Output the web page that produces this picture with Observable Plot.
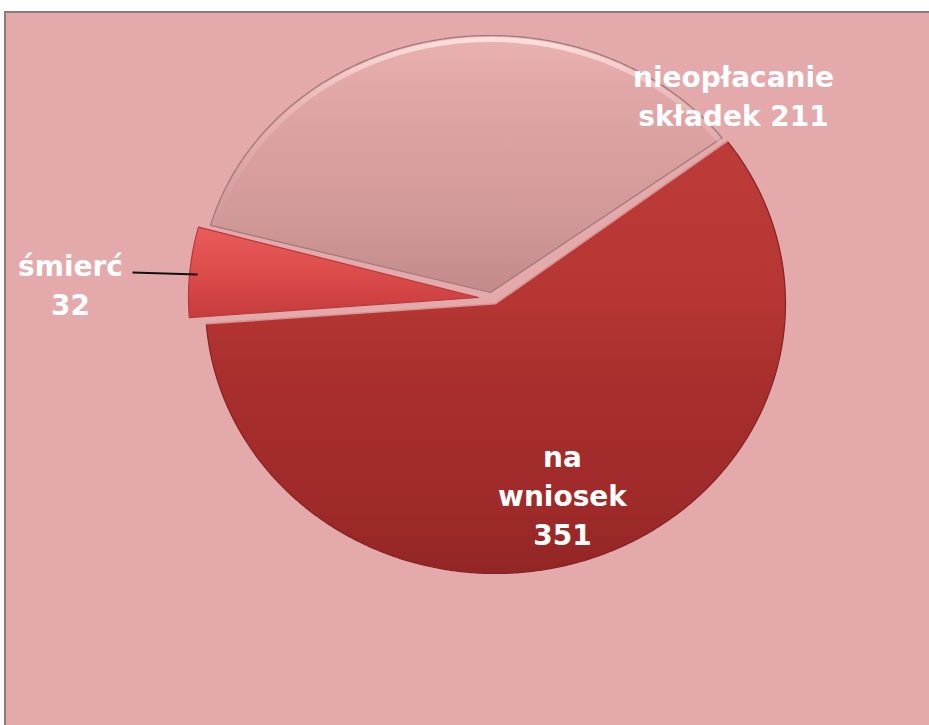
<!DOCTYPE html>
<html>
<head>
<meta charset="utf-8">
<script src="https://cdn.jsdelivr.net/npm/d3@7"></script>
<script src="https://cdn.jsdelivr.net/npm/@observablehq/plot@0.6"></script>
<style>
  html, body { margin: 0; padding: 0; background: #ffffff; }
  #frame {
    position: absolute; left: 4px; top: 11px; width: 925px; height: 714px;
    border-left: 2px solid #8c7b7b; border-top: 2px solid #8c7b7b;
    background: #e3a9ab; overflow: hidden;
  }
  #frame svg { display: block; background: transparent; }
</style>
</head>
<body>
<div id="frame"></div>
<script>
// ---- data ----
const categories = ["na wniosek", "śmierć", "nieopłacanie składek"];
const values = [351, 32, 211];
const labelTexts = ["na\nwniosek\n351", "śmierć\n32", "nieopłacanie\nskładek 211"];

// ---- layout (page pixel coordinates) ----
const W = 923, H = 712, OX = 6, OY = 13;
const CX = 495, CY = 303, RX = 290;
const startDeg = 53;
const sliceLayout = [
  {dx: 0,   dy: 0,   ry: 270, fill: "url(#gNW)", stroke: "#852322"},
  {dx: -17, dy: -6,  ry: 270, fill: "url(#gSM)", stroke: "#b8393a"},
  {dx: -5,  dy: -11, ry: 257, fill: "url(#gNS)", stroke: "#a07878"}
];
const labelLayout = [
  {x: 562, y: 493},
  {x: 70,  y: 282.5},
  {x: 733, y: 93.5}
];
const leader = {x1: 132, y1: 272, x2: 197, y2: 274};

const table = categories.map((c, i) => ({name: c, value: values[i], label: labelTexts[i]}));
const arcs = d3.pie().sort(null).value(d => d.value)
  .startAngle(startDeg * Math.PI / 180)
  .endAngle(startDeg * Math.PI / 180 + 2 * Math.PI)(table);

function slicePoints(arc, lay) {
  const ax = CX + lay.dx, ay = CY + lay.dy;
  const pts = [{x: ax, y: ay}];
  const n = Math.max(8, Math.ceil((arc.endAngle - arc.startAngle) / (Math.PI / 360)));
  for (let i = 0; i <= n; i++) {
    const t = arc.startAngle + (arc.endAngle - arc.startAngle) * i / n;
    pts.push({x: ax + RX * Math.sin(t), y: ay - lay.ry * Math.cos(t)});
  }
  pts.push({x: ax, y: ay});
  return pts;
}
function rimPoints(arc, lay, inset) {
  const ax = CX + lay.dx, ay = CY + lay.dy;
  const pts = [];
  const s = arc.startAngle, e = arc.endAngle;
  const n = Math.ceil((e - s) / (Math.PI / 360));
  for (let i = 0; i <= n; i++) {
    const t = s + (e - s) * i / n;
    pts.push({x: ax + (RX - inset) * Math.sin(t), y: ay - (lay.ry - inset) * Math.cos(t)});
  }
  return pts;
}

const drawOrder = [2, 1, 0];
const marks = [];
for (const i of drawOrder) {
  const lay = sliceLayout[i];
  marks.push(Plot.line(slicePoints(arcs[i], lay), {
    x: "x", y: "y", fill: lay.fill, stroke: lay.stroke, strokeWidth: 1.2, curve: "linear"
  }));
  if (i === 2) {
    marks.push(Plot.line(rimPoints(arcs[i], lay, 4), {
      x: "x", y: "y", stroke: "url(#gRim)", strokeWidth: 5, curve: "linear"
    }));
  }
}
// thin light edge along the top of the big slice
marks.push(Plot.line([
  {x: CX + RX * Math.sin(arcs[0].startAngle), y: CY - 270 * Math.cos(arcs[0].startAngle)},
  {x: CX, y: CY},
  {x: CX + RX * Math.sin(arcs[0].endAngle), y: CY - 270 * Math.cos(arcs[0].endAngle)}
], {x: "x", y: "y", stroke: "#f0b8b5", strokeWidth: 2, strokeOpacity: 0.75}));

marks.push(Plot.link([leader], {x1: "x1", y1: "y1", x2: "x2", y2: "y2", stroke: "#111", strokeWidth: 2}));

marks.push(Plot.text(table.map((d, i) => ({...d, ...labelLayout[i]})), {
  x: "x", y: "y", text: "label", fill: "white",
  fontSize: 28, fontWeight: "bold", fontFamily: "DejaVu Sans",
  lineHeight: 1.39, lineAnchor: "middle", textAnchor: "middle"
}));

const chart = Plot.plot({
  width: W, height: H,
  margin: 0,
  x: {domain: [OX, OX + W], axis: null},
  y: {domain: [OY, OY + H], reverse: true, axis: null},
  marks
});

const defs = `
<defs>
  <linearGradient id="gNW" x1="0" y1="0" x2="0" y2="1">
    <stop offset="0" stop-color="#be3b38"/>
    <stop offset="0.38" stop-color="#b53633"/>
    <stop offset="0.55" stop-color="#a82f2d"/>
    <stop offset="0.85" stop-color="#9e2a29"/>
    <stop offset="1" stop-color="#922625"/>
  </linearGradient>
  <linearGradient id="gSM" x1="0" y1="0" x2="0" y2="1">
    <stop offset="0" stop-color="#e85d5b"/>
    <stop offset="0.5" stop-color="#dc4c4b"/>
    <stop offset="1" stop-color="#c63b3c"/>
  </linearGradient>
  <linearGradient id="gNS" x1="0" y1="0" x2="0" y2="1">
    <stop offset="0" stop-color="#e9b2b1"/>
    <stop offset="0.25" stop-color="#e0a5a5"/>
    <stop offset="0.7" stop-color="#d29999"/>
    <stop offset="1" stop-color="#c28a8a"/>
  </linearGradient>
  <linearGradient id="gRim" x1="0" y1="0" x2="0" y2="1">
    <stop offset="0" stop-color="#fbe0de" stop-opacity="0.95"/>
    <stop offset="0.35" stop-color="#f3cfcd" stop-opacity="0.45"/>
    <stop offset="1" stop-color="#e8b8b8" stop-opacity="0"/>
  </linearGradient>
  <filter id="shadow" x="-10%" y="-10%" width="120%" height="120%">
    <feDropShadow dx="0" dy="3" stdDeviation="2.5" flood-color="#5a1a1a" flood-opacity="0.35"/>
  </filter>
</defs>`;
chart.insertAdjacentHTML("afterbegin", defs);
chart.querySelectorAll('path[fill^="url("]').forEach(p => p.setAttribute("filter", "url(#shadow)"));
document.getElementById("frame").appendChild(chart);
</script>
</body>
</html>
